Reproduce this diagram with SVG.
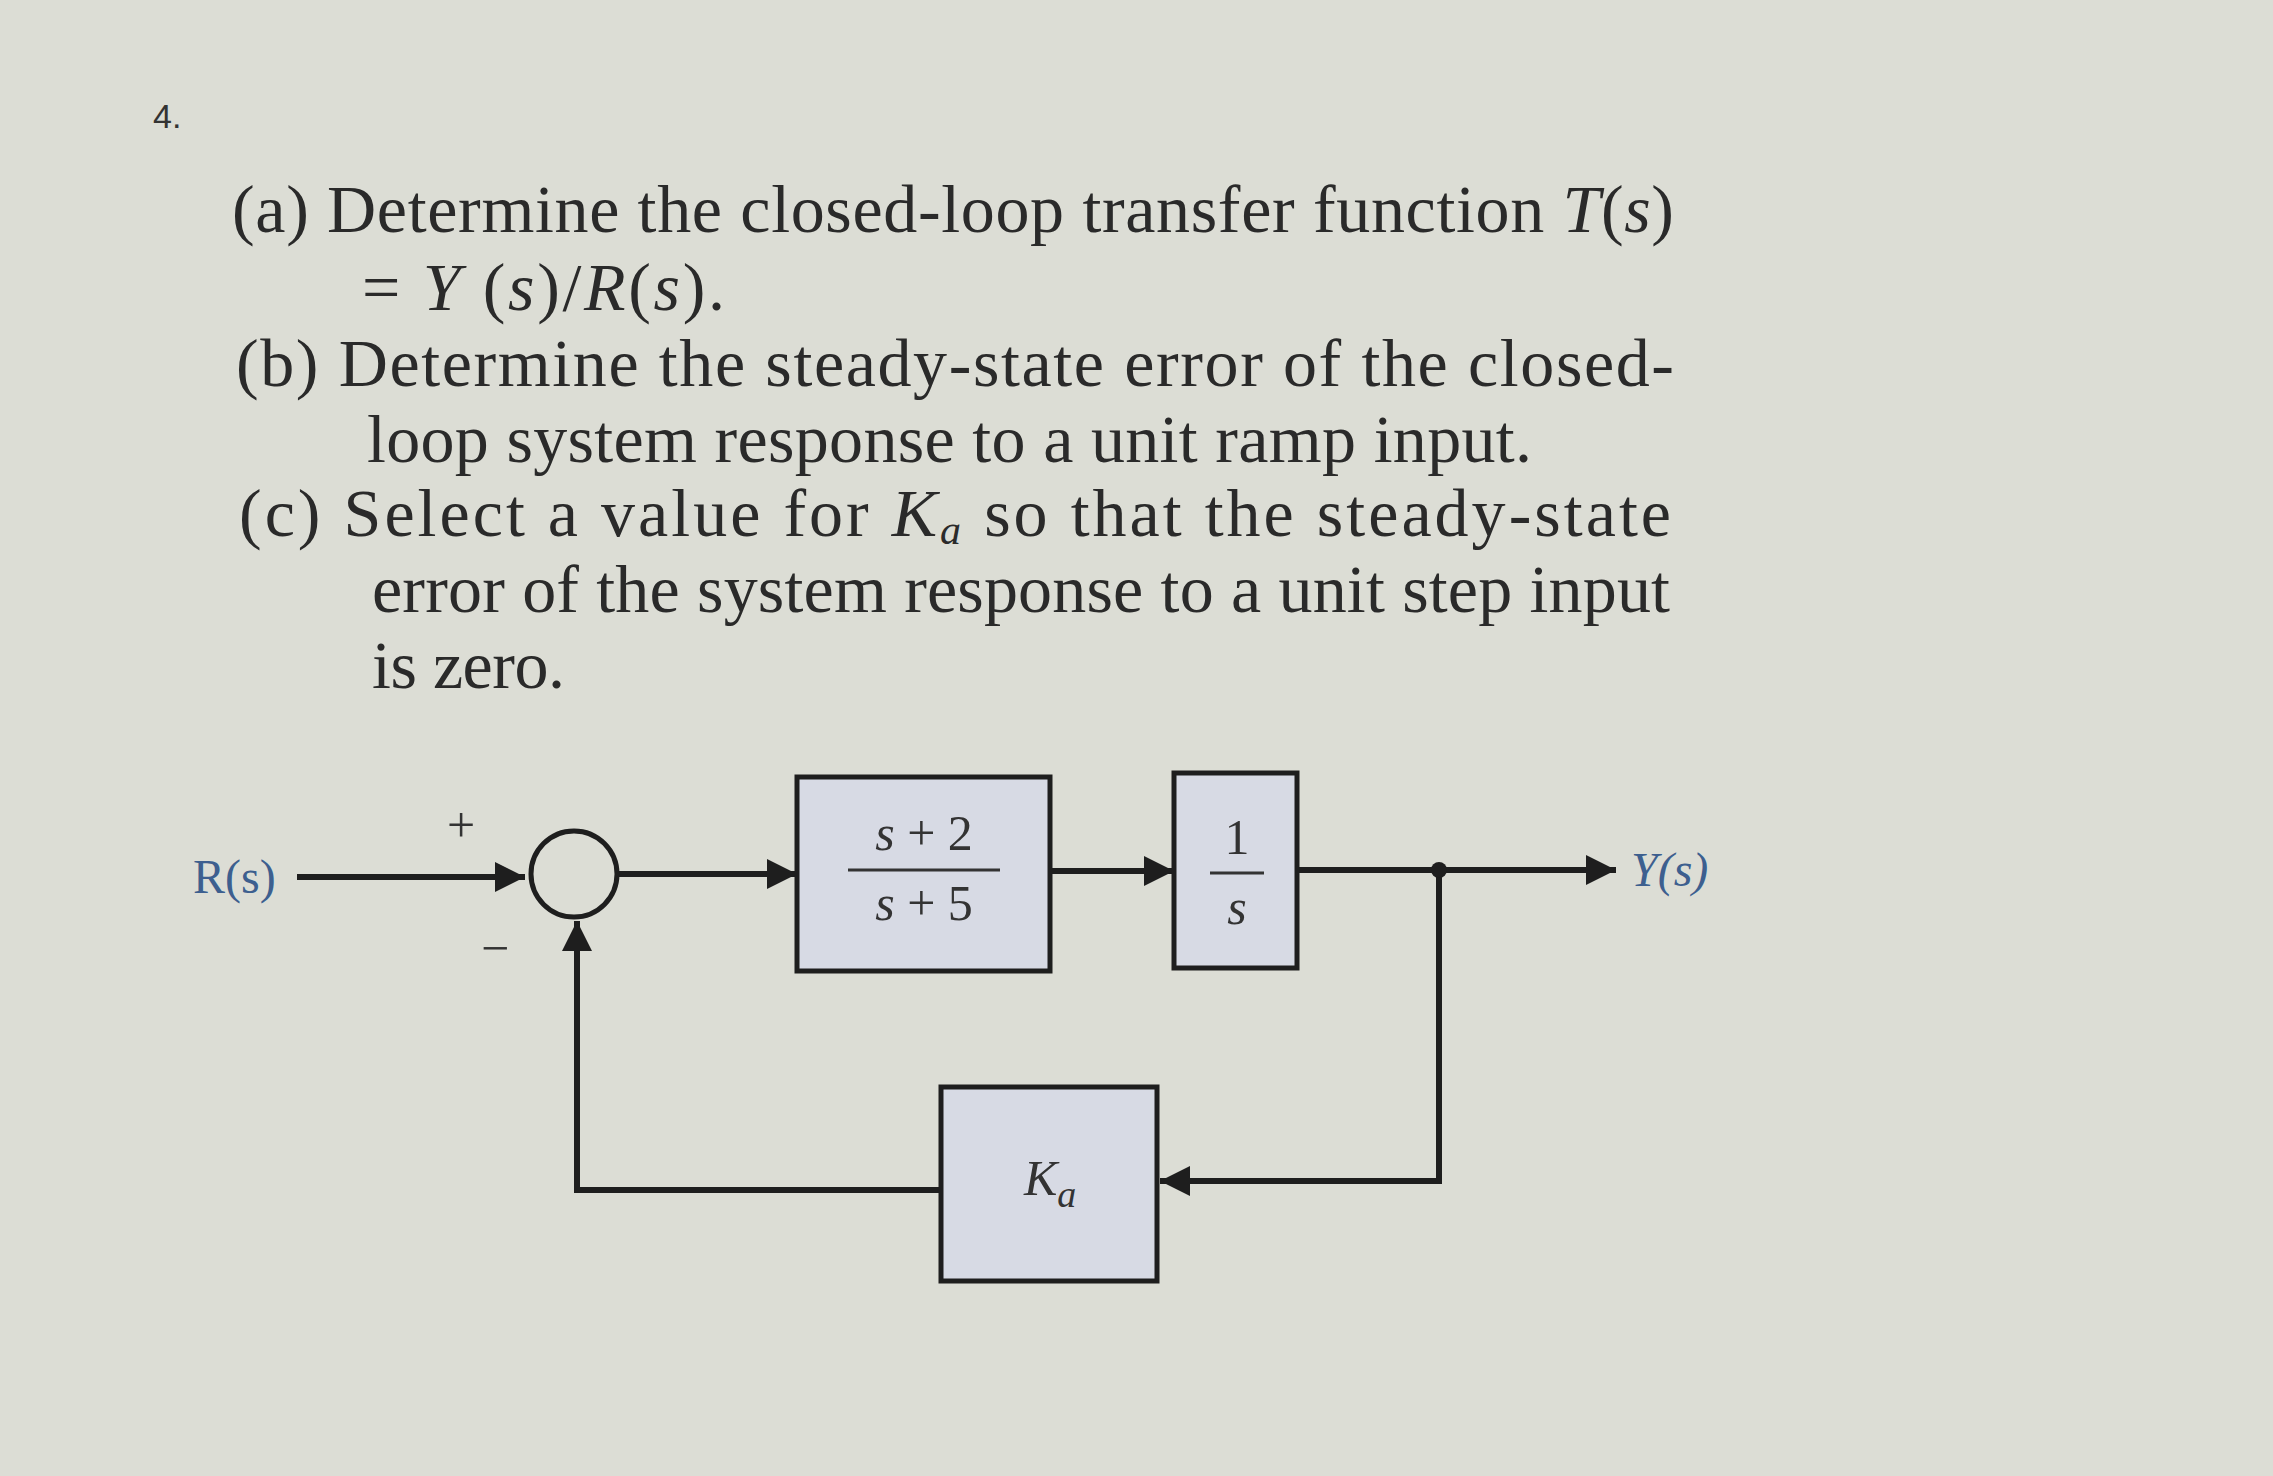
<svg xmlns="http://www.w3.org/2000/svg" width="2273" height="1476" viewBox="0 0 2273 1476">
<style>
.t{font-family:"Liberation Serif",serif;font-size:68px;fill:#2a2a2a}
.m{font-family:"Liberation Serif",serif;font-size:50px;fill:#333}
.lbl{font-family:"Liberation Serif",serif;font-size:48px;fill:#3d5f8f;font-style:italic}
.w{stroke:#1e1e1e;stroke-width:6;fill:none}
.blk{fill:#d7dae4;stroke:#1e1e1e;stroke-width:5}
</style>
<defs>
<marker id="a" viewBox="0 0 10 10" refX="10" refY="5" markerWidth="34" markerHeight="30" markerUnits="userSpaceOnUse" orient="auto"><path d="M0,0L10,5L0,10z" fill="#1e1e1e"/></marker></defs>
<rect width="2273" height="1476" fill="#dcddd5"/>
<g id="question">
<text x="153" y="128" font-family="Liberation Sans,sans-serif" font-size="34" fill="#333">4.</text>
<text class="t" x="232" y="232" textLength="1442" lengthAdjust="spacing">(a)  Determine the closed-loop transfer function <tspan font-style="italic">T</tspan>(<tspan font-style="italic">s</tspan>)</text>
<text class="t" x="362" y="310" textLength="363" lengthAdjust="spacing">= <tspan font-style="italic">Y</tspan> (<tspan font-style="italic">s</tspan>)/<tspan font-style="italic">R</tspan>(<tspan font-style="italic">s</tspan>).</text>
<text class="t" x="236" y="386" textLength="1438" lengthAdjust="spacing">(b)  Determine the steady-state error of the closed-</text>
<text class="t" x="367" y="462" textLength="1165" lengthAdjust="spacing">loop system response to a unit ramp input.</text>
<text class="t" x="239" y="536" textLength="1432" lengthAdjust="spacing">(c)  Select a value for <tspan font-style="italic">K</tspan><tspan font-style="italic" font-size="42" dy="8">a</tspan><tspan dy="-8"> so that the steady-state</tspan></text>
<text class="t" x="372" y="612" textLength="1298" lengthAdjust="spacing">error of the system response to a unit step input</text>
<text class="t" x="372" y="688" textLength="193" lengthAdjust="spacing">is zero.</text>
</g>
<g id="connectors">
<line class="w" x1="297" y1="877" x2="525" y2="877" marker-end="url(#a)"/>
<line class="w" x1="618" y1="874" x2="797" y2="874" marker-end="url(#a)"/>
<line class="w" x1="1050" y1="871" x2="1174" y2="871" marker-end="url(#a)"/>
<line class="w" x1="1297" y1="870" x2="1616" y2="870" marker-end="url(#a)"/>
<polyline class="w" points="1439,870 1439,1181 1160,1181" marker-end="url(#a)"/>
<polyline class="w" points="941,1190 577,1190 577,921" marker-end="url(#a)"/>
<circle cx="1439" cy="870" r="8" fill="#1e1e1e"/>
</g>
<g id="R"><text class="lbl" x="193" y="893" style="font-style:normal">R(s)</text></g>
<g id="sum"><circle cx="574" cy="874" r="43" fill="#dcddd5" stroke="#1e1e1e" stroke-width="5"/>
<text class="m" x="461" y="842" text-anchor="middle">+</text><text class="m" x="495" y="965" text-anchor="middle">−</text></g>
<g id="G1"><rect class="blk" x="797" y="777" width="253" height="194"/>
<text class="m" x="924" y="850" text-anchor="middle"><tspan font-style="italic">s</tspan> + 2</text>
<line x1="848" y1="870" x2="1000" y2="870" stroke="#333" stroke-width="3"/>
<text class="m" x="924" y="920" text-anchor="middle"><tspan font-style="italic">s</tspan> + 5</text></g>
<g id="G2"><rect class="blk" x="1174" y="773" width="123" height="195"/>
<text class="m" x="1237" y="854" text-anchor="middle">1</text>
<line x1="1210" y1="873" x2="1264" y2="873" stroke="#333" stroke-width="3"/>
<text class="m" x="1237" y="924" text-anchor="middle" font-style="italic">s</text></g>
<g id="Y"><text class="lbl" x="1631" y="886">Y(s)</text></g>
<g id="Ka"><rect class="blk" x="941" y="1087" width="216" height="194"/>
<text class="m" x="1024" y="1195" font-style="italic">K<tspan font-size="38" dy="12">a</tspan></text></g>
</svg>
